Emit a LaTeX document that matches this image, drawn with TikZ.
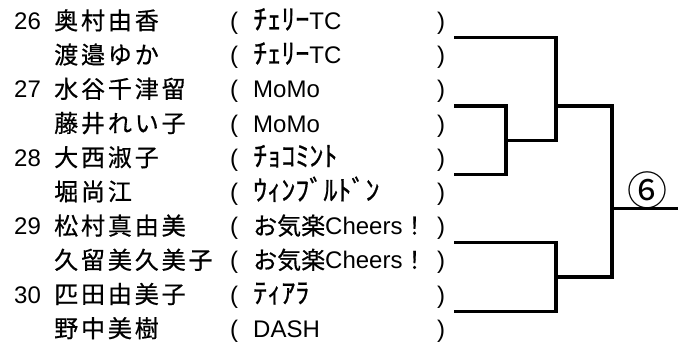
\documentclass[tikz,border=0pt]{standalone}
\usepackage{fontspec}
\setmainfont{Liberation Sans}
\newfontfamily\jpname{Noto Sans CJK JP}[LetterSpace=12, FakeBold=0.6]
\newfontfamily\jp{Noto Sans CJK JP}[FakeBold=0.6]
\newfontfamily\jpkana{Noto Sans CJK JP}[Scale=1.17, FakeBold=0.6]
\newfontfamily\symb{Noto Sans CJK JP}

\begin{document}
\begin{tikzpicture}[x=1pt,y=-1pt,
  txt/.style={anchor=base west, inner sep=0pt, font=\fontsize{24}{28}\selectfont},
  nametxt/.style={anchor=base west, inner sep=0pt, font=\jpname\fontsize{24}{28}\selectfont},
  line/.style={line width=3.2pt}]
\useasboundingbox (0,0) rectangle (687,344);
% Numeros
\foreach \i/\num in {0/26, 2/27, 4/28, 6/29, 8/30}
  \node[txt] (num\num) at (14,{29.5+34.2*\i}) {\num};
% Nomes e equipes
\foreach \i/\nm/\tm in {0/{奥村由香}/{{\jpkana ﾁｪﾘｰ}TC},
    1/{渡邉ゆか}/{{\jpkana ﾁｪﾘｰ}TC},
    2/{水谷千津留}/{MoMo},
    3/{藤井れい子}/{MoMo},
    4/{大西淑子}/{{\jpkana ﾁｮｺﾐﾝﾄ}},
    5/{堀尚江}/{{\jpkana ｳｨﾝﾌﾞﾙﾄﾞﾝ}},
    6/{松村真由美}/{{\jp お気楽}Cheers{\jp ！}},
    7/{久留美久美子}/{{\jp お気楽}Cheers{\jp ！}},
    8/{匹田由美子}/{{\jpkana ﾃｨｱﾗ}},
    9/{野中美樹}/{DASH}} {
  \node[nametxt] (name\i) at (54,{29.5+34.2*\i}) {\nm};
  \node[txt] (open\i) at (230,{29.5+34.2*\i}) {(};
  \node[txt] (team\i) at (253,{29.5+34.2*\i}) {\tm};
  \node[txt] (close\i) at (437,{29.5+34.2*\i}) {)};
}
% Chave
\coordinate (s26) at (454,37.7);
\coordinate (s27) at (454,106.1);
\coordinate (s28) at (454,174.5);
\coordinate (s29) at (454,242.9);
\coordinate (s30) at (454,311.3);
\coordinate (m2728) at (506,140.3);
\coordinate (m2628) at (556,106.1);
\coordinate (m2930) at (556,277.1);
\coordinate (f) at (612,208.7);
\coordinate (win) at (678,208.7);
\draw[line] (s27) -| (m2728) |- (s28);
\draw[line] (s26) -| (m2728 -| m2628) -- (m2728);
\draw[line] (s29) -| (m2930) |- (s30);
\draw[line] (m2628) -| (f |- m2930) -- (m2930);
\draw[line] (f) -- (win);
% Rotulo
\node[inner sep=0pt, font=\symb\fontsize{40}{40}\selectfont] (r6) at (647,190) {⑥};
\end{tikzpicture}
\end{document}
